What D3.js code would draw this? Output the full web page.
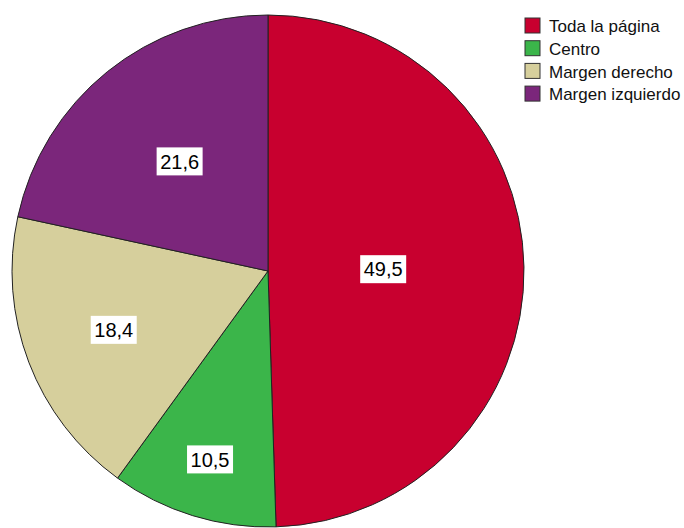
<!DOCTYPE html>
<html>
<head>
<meta charset="utf-8">
<script src="https://cdn.jsdelivr.net/npm/d3@7"></script>
<style>
  body { margin: 0; background: #fff; }
  text { font-family: Arial, "Liberation Sans", sans-serif; }
</style>
</head>
<body>
<script>
var categories = ["Toda la página", "Centro", "Margen derecho", "Margen izquierdo"];
var values = [49.5, 10.5, 18.4, 21.6];
var valueLabels = ["49,5", "10,5", "18,4", "21,6"];
var colors = ["#c8002f", "#3bb54a", "#d6cf9c", "#7b267b"];
// how far out each label sits, as a share of the radius
var labelRadius = [0.45, 0.77, 0.645, 0.55];

var w = 684, h = 528;
var cx = 268, cy = 271, r = 256;

var svg = d3.select("body").append("svg")
  .attr("width", w)
  .attr("height", h);

var data = categories.map(function (c, i) {
  return { name: c, value: values[i], label: valueLabels[i], color: colors[i], lr: labelRadius[i] };
});

var pie = d3.pie().sort(null).value(function (d) { return d.value; });
var arc = d3.arc().innerRadius(0).outerRadius(r);

var g = svg.append("g").attr("transform", "translate(" + cx + "," + cy + ")");
var arcs = pie(data);

g.selectAll("path")
  .data(arcs)
  .enter()
  .append("path")
  .attr("d", arc)
  .attr("fill", function (d) { return d.data.color; })
  .attr("stroke", "#222")
  .attr("stroke-width", 1);

var labels = g.selectAll("g.lab")
  .data(arcs)
  .enter()
  .append("g")
  .attr("class", "lab")
  .attr("transform", function (d) {
    var a = (d.startAngle + d.endAngle) / 2;
    var rr = r * d.data.lr;
    return "translate(" + (Math.sin(a) * rr) + "," + (-Math.cos(a) * rr) + ")";
  });

labels.append("rect")
  .attr("x", -23)
  .attr("y", -14)
  .attr("width", 46)
  .attr("height", 28)
  .attr("fill", "#fff");

labels.append("text")
  .attr("text-anchor", "middle")
  .attr("dy", "0.36em")
  .attr("font-size", "20px")
  .attr("fill", "#000")
  .text(function (d) { return d.data.label; });

// legend
var legend = svg.append("g").attr("transform", "translate(525,18)");
var items = legend.selectAll("g")
  .data(data)
  .enter()
  .append("g")
  .attr("transform", function (d, i) { return "translate(0," + (i * 22.7) + ")"; });

items.append("rect")
  .attr("width", 15)
  .attr("height", 15)
  .attr("fill", function (d) { return d.color; })
  .attr("stroke", "#333")
  .attr("stroke-width", 1);

items.append("text")
  .attr("x", 24)
  .attr("y", 8)
  .attr("dy", "0.36em")
  .attr("font-size", "17px")
  .attr("fill", "#111")
  .text(function (d) { return d.name; });
</script>
</body>
</html>
